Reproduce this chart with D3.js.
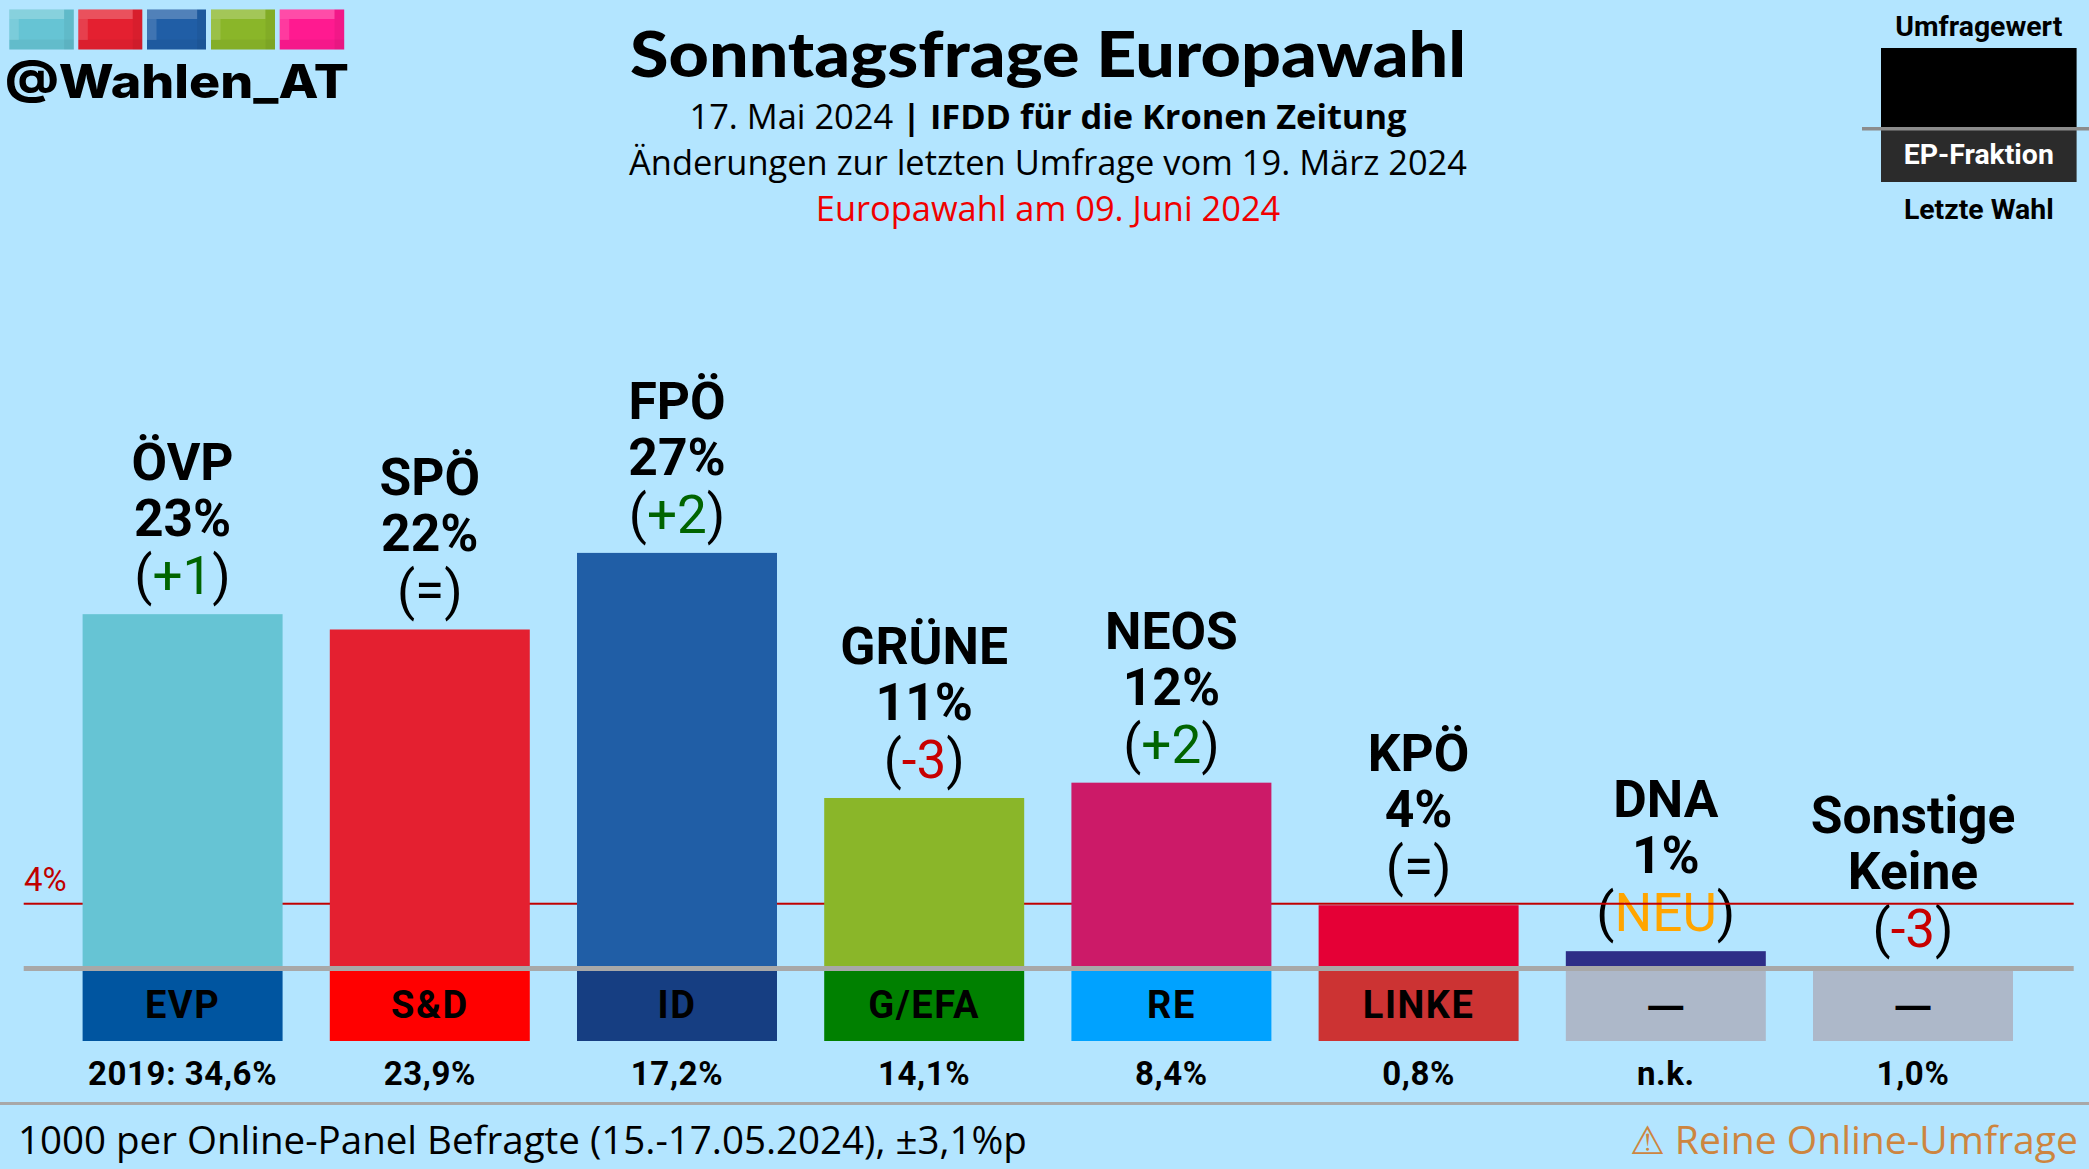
<!DOCTYPE html>
<html>
<head>
<meta charset="utf-8">
<script src="https://cdn.jsdelivr.net/npm/d3@7"></script>
<style>
html, body {margin: 0; padding: 0; background: #b3e5ff; overflow: hidden}
text {font-family: "Open Sans", sans-serif}
.roboto {font-family: Roboto, sans-serif}
</style>
</head>
<body>
<div id="canvas"></div>
<script>
// Data
var parties = ["ÖVP", "SPÖ", "FPÖ", "GRÜNE", "NEOS", "KPÖ", "DNA", "Sonstige"]
var values = [23, 22, 27, 11, 12, 4, 1, 0]
var value_labels = ["23%", "22%", "27%", "11%", "12%", "4%", "1%", "Keine"]
var changes = ["+1", "=", "+2", "-3", "+2", "=", "NEU", "-3"]
var factions = ["EVP", "S&D", "ID", "G/EFA", "RE", "LINKE", "—", "—"]
var last_results = ["2019: 34,6%", "23,9%", "17,2%", "14,1%", "8,4%", "0,8%", "n.k.", "1,0%"]
var threshold = 4

// Colours
var bar_colours = ["#66c4d4", "#e42030", "#205ea6", "#8ab629", "#cc1a68", "#e50036", "#2e2e87", "none"]
var faction_colours = ["#0055a0", "#ff0000", "#163e82", "#008000", "#00a2ff", "#cc3333", "#adb8c9", "#adb8c9"]
var logo_colours = ["#66c4d4", "#e42030", "#205ea6", "#8ab629", "#ff1a90"]
var logo_starts = [9.3, 78.3, 147, 211, 279.7]
var logo_widths = [64.5, 64, 59, 64, 64.5]
function change_colour(c) {
    if (c == "=") return "#000"
    if (c == "NEU") return "orange"
    return c[0] == "+" ? "#006400" : "#c80000"
}

// Display variables
var total_width = 2089, total_height = 1169
var base_y = 966.5, rule_h = 5
var box_bottom = 1041

var svg = d3.select("#canvas").append("svg").attr("width", total_width).attr("height", total_height)
    .style("display", "block")

var x = d3.scaleBand().domain(parties).range([82.6, 2013]).paddingInner(0.191).paddingOuter(0)
var y = d3.scaleLinear().domain([0, 27]).range([base_y, 552.9])

// ==================================================================================
// LOGO
var logo = svg.append("g").selectAll("g").data(d3.range(5)).enter().append("g")
    .attr("transform", i => "translate(" + logo_starts[i] + ",9.5)")
logo.append("rect").attr("width", i => logo_widths[i]).attr("height", 40).attr("fill", i => logo_colours[i])
logo.append("rect").attr("width", i => logo_widths[i] * 0.85).attr("height", 9.5).attr("fill", "#fff").attr("opacity", 0.22)
logo.append("rect").attr("y", 9.5).attr("width", 9.5).attr("height", 21).attr("fill", "#fff").attr("opacity", 0.14)
logo.append("rect").attr("x", i => logo_widths[i] * 0.85).attr("width", i => logo_widths[i] * 0.15).attr("height", 40).attr("fill", "#000").attr("opacity", 0.05)
logo.append("rect").attr("y", 30).attr("width", i => logo_widths[i]).attr("height", 10).attr("fill", "#000").attr("opacity", 0.04)

svg.append("text").attr("x", 5).attr("y", 98).text("@Wahlen_AT")
    .style("font-family", "Inter").style("font-weight", 800).style("font-size", "46px").attr("fill", "#000")
    .attr("textLength", 344).attr("lengthAdjust", "spacingAndGlyphs")

// ==================================================================================
// HEADER
var cx = 1048
svg.append("text").attr("x", cx).attr("y", 77).attr("text-anchor", "middle").text("Sonntagsfrage Europawahl")
    .style("font-family", "Lato").style("font-weight", 900).style("font-size", "62px").attr("fill", "#000")
    .attr("textLength", 836).attr("lengthAdjust", "spacingAndGlyphs")
var sub = svg.append("text").attr("x", cx).attr("y", 128.5).attr("text-anchor", "middle").style("font-size", "34.4px")
sub.append("tspan").text("17. Mai 2024 ")
sub.append("tspan").style("font-weight", 700).text("| IFDD für die Kronen Zeitung")
svg.append("text").attr("x", cx).attr("y", 174.5).attr("text-anchor", "middle").style("font-size", "34.4px")
    .text("Änderungen zur letzten Umfrage vom 19. März 2024")
svg.append("text").attr("x", cx).attr("y", 220.5).attr("text-anchor", "middle").style("font-size", "34.4px")
    .attr("fill", "#f00000").text("Europawahl am 09. Juni 2024")

// ==================================================================================
// LEGEND
var leg_cx = 1978.8
svg.append("rect").attr("x", 1881).attr("y", 48).attr("width", 195.6).attr("height", 80).attr("fill", "#000")
svg.append("rect").attr("x", 1881).attr("y", 128).attr("width", 195.6).attr("height", 54).attr("fill", "#2b2b2b")
svg.append("rect").attr("x", 1862).attr("y", 127).attr("width", 227).attr("height", 3.5).attr("fill", "#8c8c8c")
svg.append("text").attr("class", "roboto").attr("x", leg_cx).attr("y", 36).attr("text-anchor", "middle")
    .style("font-size", "28.4px").style("font-weight", 700).text("Umfragewert")
svg.append("text").attr("class", "roboto").attr("x", leg_cx).attr("y", 163.5).attr("text-anchor", "middle")
    .style("font-size", "28.4px").style("font-weight", 700).attr("fill", "#fff").text("EP-Fraktion")
svg.append("text").attr("class", "roboto").attr("x", leg_cx).attr("y", 218.5).attr("text-anchor", "middle")
    .style("font-size", "28.4px").style("font-weight", 700).text("Letzte Wahl")

// ==================================================================================
// LABELS ABOVE BARS (behind threshold line)
var idx = d3.range(parties.length)
var labels = svg.append("g").selectAll("g").data(idx).enter().append("g")
    .attr("transform", i => "translate(" + (x(parties[i]) + x.bandwidth() / 2) + "," + (y(values[i]) - 20) + ")")
labels.append("text").attr("class", "roboto").attr("y", -114).attr("text-anchor", "middle")
    .style("font-size", "51.6px").style("font-weight", 700).text(i => parties[i])
labels.append("text").attr("class", "roboto").attr("y", -58).attr("text-anchor", "middle")
    .style("font-size", "51.6px").style("font-weight", 700).text(i => value_labels[i])
var chg = labels.append("text").attr("class", "roboto").attr("text-anchor", "middle").style("font-size", "53px")
chg.append("tspan").text("(")
chg.append("tspan").attr("fill", i => change_colour(changes[i])).text(i => changes[i])
chg.append("tspan").text(")")

// Threshold line
svg.append("rect").attr("x", 23.7).attr("y", y(threshold) - 2.5).attr("width", 2050).attr("height", 2).attr("fill", "#c00000")
svg.append("text").attr("class", "roboto").attr("x", 24).attr("y", 890.5).style("font-size", "33px").attr("fill", "#c00000").text(threshold + "%")

// ==================================================================================
// BARS
svg.append("g").selectAll("rect").data(idx).enter().append("rect")
    .attr("x", i => x(parties[i]))
    .attr("width", x.bandwidth())
    .attr("y", i => y(values[i]))
    .attr("height", i => base_y - y(values[i]))
    .attr("fill", i => bar_colours[i])

svg.append("g").selectAll("rect").data(idx).enter().append("rect")
    .attr("x", i => x(parties[i]))
    .attr("width", x.bandwidth())
    .attr("y", base_y)
    .attr("height", box_bottom - base_y)
    .attr("fill", i => faction_colours[i])

svg.append("rect").attr("x", 23.7).attr("y", base_y - 0.5).attr("width", 2050).attr("height", rule_h).attr("fill", "#a8a8a8")

svg.append("g").selectAll("text").data(idx).enter().append("text")
    .attr("x", i => x(parties[i]) + x.bandwidth() / 2)
    .attr("y", 1018).attr("text-anchor", "middle")
    .style("font-family", i => factions[i] == "—" ? "Open Sans" : "Roboto")
    .style("letter-spacing", i => factions[i] == "—" ? "0" : "1.5px")
    .style("font-size", "38px").style("font-weight", 700).text(i => factions[i])

svg.append("g").selectAll("text").data(idx).enter().append("text")
    .attr("class", "roboto")
    .attr("x", i => x(parties[i]) + x.bandwidth() / 2)
    .attr("y", 1085).attr("text-anchor", "middle")
    .style("letter-spacing", "0.6px")
    .style("font-size", "33px").style("font-weight", 700).text(i => last_results[i])

// ==================================================================================
// FOOTER
svg.append("rect").attr("x", 0).attr("y", 1102).attr("width", total_width).attr("height", 3).attr("fill", "#a8a8a8")
svg.append("text").attr("x", 18).attr("y", 1153.5).style("font-size", "38.5px")
    .text("1000 per Online-Panel Befragte (15.-17.05.2024), ±3,1%p")
svg.append("text").attr("x", 2078).attr("y", 1153.5).attr("text-anchor", "end").style("font-size", "39.1px")
    .attr("fill", "#cd853f").text("⚠ Reine Online-Umfrage")
</script>
</body>
</html>
